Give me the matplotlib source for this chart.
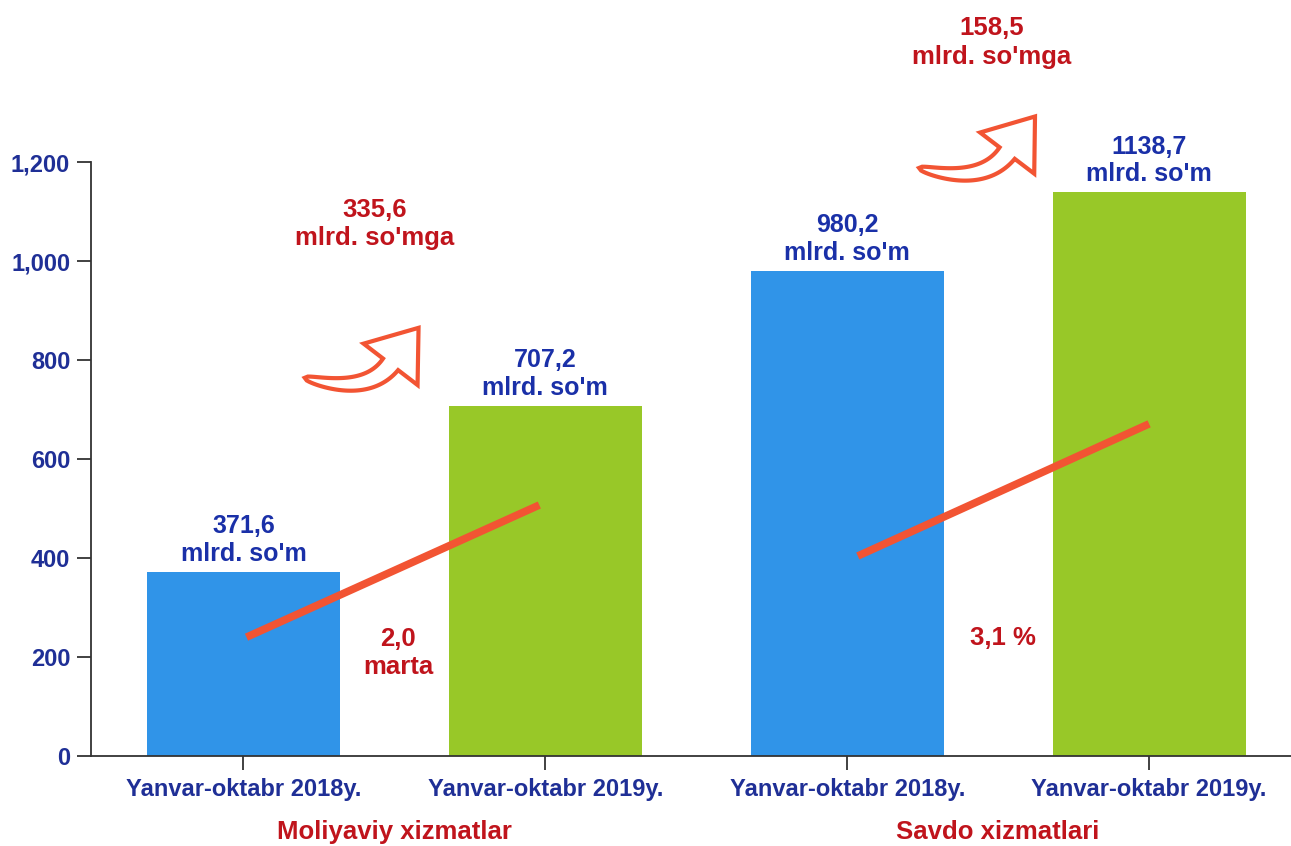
import numpy as np
import matplotlib.pyplot as plt
from matplotlib.patches import Polygon

# data
categories = ["Yanvar-oktabr 2018y.", "Yanvar-oktabr 2019y.",
              "Yanvar-oktabr 2018y.", "Yanvar-oktabr 2019y."]
values = [371.6, 707.2, 980.2, 1138.7]
value_labels = ["371,6\nmlrd. so'm", "707,2\nmlrd. so'm",
                "980,2\nmlrd. so'm", "1138,7\nmlrd. so'm"]
groups = ["Moliyaviy xizmatlar", "Savdo xizmatlari"]
growth_abs = ["335,6\nmlrd. so'mga", "158,5\nmlrd. so'mga"]
growth_rel = ["2,0\nmarta", "3,1 %"]
trend_x = [[0.01, 0.98], [2.035, 3.0]]
trend_y = [[240, 507], [404, 671]]
arrow_from = [(0.203, 764), (2.238, 1188)]
arrow_to = [(0.580, 865), (2.622, 1292)]

BLUE = '#3094e8'
GREEN = '#98c828'
NAVY = '#1f2f96'
LBL = '#1a30a8'
RED = '#c0141c'
ORANGE = '#f25433'

plt.rcParams['font.family'] = ['Liberation Sans', 'DejaVu Sans']
plt.rcParams['font.weight'] = 'bold'

fig = plt.figure(figsize=(12.91, 8.46), dpi=100)
ax = fig.add_axes([0.0705, 0.1064, 0.9295, 0.7021])

x = range(len(values))
ax.bar(x, values, width=0.64, color=[BLUE, GREEN, BLUE, GREEN], zorder=2)

for xi, v, lab in zip(x, values, value_labels):
    ax.text(xi, v + 12, lab, ha='center', va='bottom', color=LBL,
            fontsize=18, fontweight='bold', linespacing=1.2)

for tx, ty in zip(trend_x, trend_y):
    ax.plot(tx, ty, color=ORANGE, lw=5.5, solid_capstyle='butt', zorder=3)

ax.text(0.435, 1075, growth_abs[0], ha='center', va='center', color=RED,
        fontsize=18.5, fontweight='bold', linespacing=1.25)
ax.text(2.478, 1442, growth_abs[1], ha='center', va='center', color=RED,
        fontsize=18.5, fontweight='bold', linespacing=1.25)
ax.text(0.512, 208, growth_rel[0], ha='center', va='center', color=RED,
        fontsize=18.5, fontweight='bold', linespacing=1.25)
ax.text(2.515, 238, growth_rel[1], ha='center', va='center', color=RED,
        fontsize=18.5, fontweight='bold')

ax.text(0.5, -153, groups[0], ha='center', va='center', color=RED,
        fontsize=18.5, fontweight='bold')
ax.text(2.5, -153, groups[1], ha='center', va='center', color=RED,
        fontsize=18.5, fontweight='bold')

ax.set_xlim(-0.505, 3.47)
ax.set_ylim(0, 1200)
ax.set_yticks([0, 200, 400, 600, 800, 1000, 1200])
ax.set_yticklabels(['0', '200', '400', '600', '800', '1,000', '1,200'])
ax.set_xticks(list(x))
ax.set_xticklabels(categories)
ax.tick_params(axis='y', colors='#333333', labelcolor=NAVY, labelsize=17, length=10, width=1.3, pad=5)
ax.tick_params(axis='x', colors='#333333', labelcolor=NAVY, labelsize=17, length=10, width=1.3, pad=6)
for lab in ax.get_xticklabels() + ax.get_yticklabels():
    lab.set_fontweight('bold')
for s in ['top', 'right']:
    ax.spines[s].set_visible(False)
for s in ['left', 'bottom']:
    ax.spines[s].set_color('#333333')
    ax.spines[s].set_linewidth(1.3)


def curved_arrow(a, b, rad=0.33, back=0.1, head_len=46, head_w=68, tail_w=19):
    # outlined curved arrow with a tapered tail, built in pixel space
    to_px = ax.transData
    pa = to_px.transform(a)
    pb = to_px.transform(b)
    d = pb - pa
    c = (pa + pb) / 2 + rad * np.array([d[1], -d[0]]) - back * d
    end_dir = (pb - c) / np.hypot(*(pb - c))
    base = pb - head_len * end_dir
    t = np.linspace(0, 1, 50)[:, None]
    pts = (1 - t) ** 2 * pa + 2 * (1 - t) * t * c + t ** 2 * base
    tan = 2 * (1 - t) * (c - pa) + 2 * t * (base - c)
    tan = tan / np.hypot(tan[:, 0], tan[:, 1])[:, None]
    nrm = np.column_stack([-tan[:, 1], tan[:, 0]])
    w = tail_w / 2 * t ** 0.4
    left = pts + w * nrm
    right = pts - w * nrm
    n_end = nrm[-1]
    head = np.array([base + head_w / 2 * n_end, pb, base - head_w / 2 * n_end])
    poly = np.vstack([left, head, right[::-1]])
    poly = to_px.inverted().transform(poly)
    ax.add_patch(Polygon(poly, closed=True, facecolor='white', edgecolor=ORANGE,
                         lw=3, joinstyle='miter', clip_on=False, zorder=4))


for a, b in zip(arrow_from, arrow_to):
    curved_arrow(a, b)

fig.savefig('out.png', dpi=100)
